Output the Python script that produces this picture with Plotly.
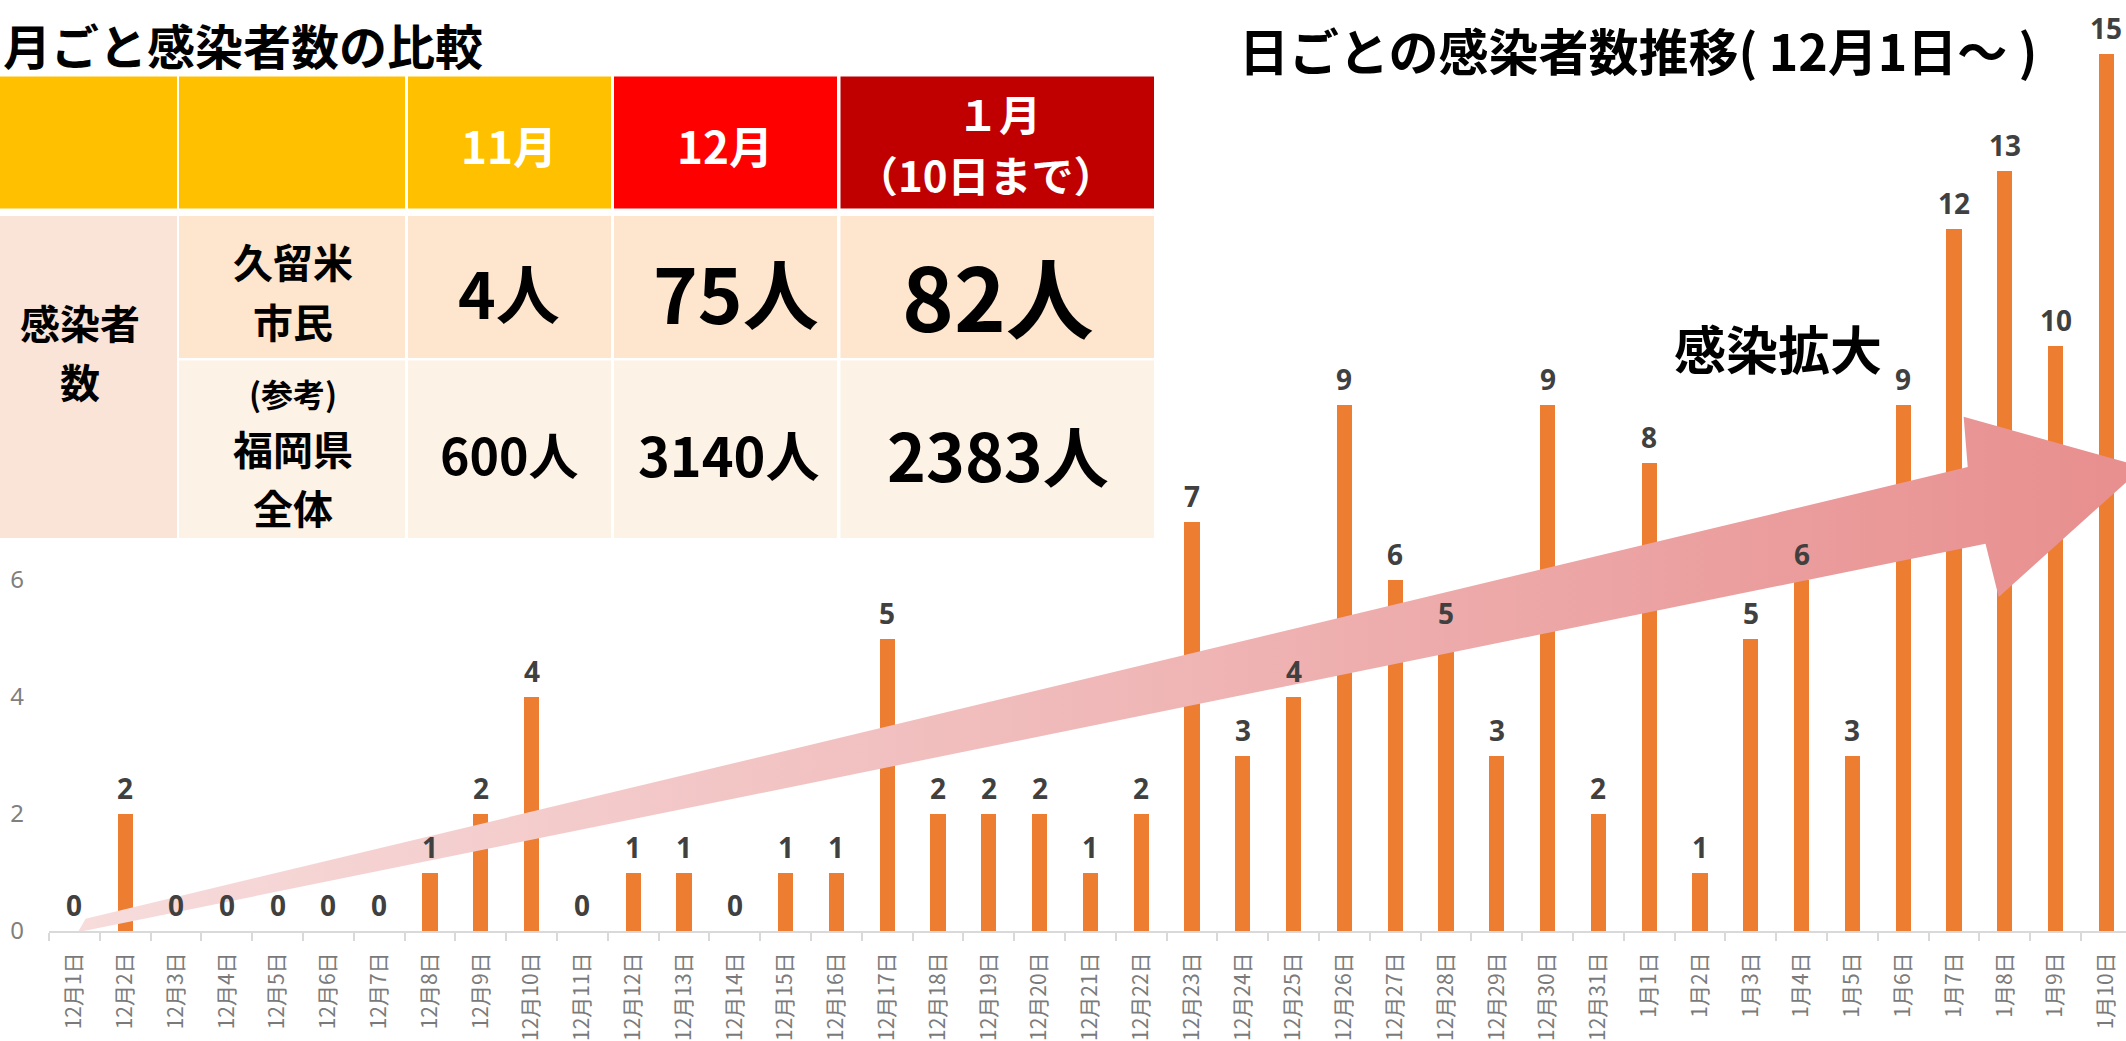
import plotly.graph_objects as go

# ---------------- data ----------------
categories = [f"12月{d}日" for d in range(1, 32)] + [f"1月{d}日" for d in range(1, 11)]
daily_cases = [0, 2, 0, 0, 0, 0, 0, 1, 2, 4, 0, 1, 1, 0, 1, 1, 5, 2, 2, 2, 1, 2, 7, 3, 4,
               9, 6, 5, 3, 9, 2, 8, 1, 5, 6, 3, 9, 12, 13, 10, 15]
y_tick_values = [0, 2, 4, 6]

table_months = ["11月", "12月", "１月", "（10日まで）"]
kurume_cases = ["4人", "75人", "82人"]
fukuoka_cases = ["600人", "3140人", "2383人"]

# decorative arrow outline (in axis units)
arrow_shape_x = [0.07, 0.22, 37.27, 37.19, 40.72, 37.88, 37.62, 0.07]
arrow_shape_y = [-0.02, 0.21, 7.93, 8.79, 7.93, 5.71, 6.62, -0.02]

# ---------------- layout helpers ----------------
W, H = 2126, 1041
ML, MR, MT, MB = 49, 0, 0, 110
PW, PH = W - ML - MR, H - MT - MB
CAT_PX = 50.8
UNIT_PX = 58.5


def px(x):
    return (x - ML) / PW


def py(y):
    return (H - MB - y) / PH


JP = "Noto Sans CJK JP"

fig = go.Figure()

fig.add_trace(go.Scatter(
    x=arrow_shape_x, y=arrow_shape_y, mode="lines", fill="toself",
    line=dict(width=0, color="rgba(0,0,0,0)"),
    fillgradient=dict(type="horizontal",
                      colorscale=[[0, "rgb(247,220,220)"], [0.5, "rgb(240,184,184)"],
                                  [1, "rgb(232,142,142)"]]),
    hoverinfo="skip", showlegend=False))

positions = list(range(len(categories)))
fig.add_trace(go.Bar(x=positions, y=daily_cases, marker_color="#ED7D31",
                     marker_line_width=0, width=0.3, showlegend=False))

annotations = []
for i, v in zip(positions, daily_cases):
    annotations.append(dict(x=i, y=v, xref="x", yref="y", text=f"<b>{v}</b>",
                            showarrow=False, yanchor="bottom", yshift=5,
                            font=dict(family="Noto Sans", size=28, color="#404040")))

shapes = []


def rect(x0, y0, x1, y1, color):
    shapes.append(dict(type="rect", xref="paper", yref="paper", layer="above",
                       x0=px(x0), x1=px(x1), y0=py(y1), y1=py(y0),
                       fillcolor=color, line=dict(width=0)))


def text(cx, cy, t, size, color="black", anchor="center"):
    annotations.append(dict(xref="paper", yref="paper", x=px(cx), y=py(cy), text=t,
                            showarrow=False, xanchor=anchor, yanchor="middle",
                            font=dict(family=JP, size=size, color=color)))


# table background
rect(-10, 74, 1157, 540, "white")
cols = [(-5, 177), (179, 405), (408, 611), (614, 837), (840.5, 1154)]
hdr_colors = ["#FFC000", "#FFC000", "#FFC000", "#FF0000", "#C00000"]
for (x0, x1), c in zip(cols, hdr_colors):
    rect(x0, 76.5, x1, 208.6, c)
rect(cols[0][0], 216, cols[0][1], 538, "#FAE4D8")
for x0, x1 in cols[1:]:
    rect(x0, 216, x1, 358, "#FDE6CD")
    rect(x0, 360.5, x1, 538, "#FDF2E6")

# header texts
text(509, 145, f"<b>{table_months[0]}</b>", 44, "white")
text(725, 145, f"<b>{table_months[1]}</b>", 44, "white")
text(999, 113, f"<b>{table_months[2]}</b>", 42, "white")
text(986, 173, f"<b>{table_months[3]}</b>", 42, "white")

text(80, 322, "<b>感染者</b>", 40)
text(80, 381, "<b>数</b>", 40)
text(293, 261, "<b>久留米</b>", 40)
text(293, 321, "<b>市民</b>", 40)
text(293, 393, "<b>(参考)</b>", 32)
text(293, 448, "<b>福岡県</b>", 40)
text(293, 507, "<b>全体</b>", 40)

text(509, 291, f"<b>{kurume_cases[0]}</b>", 64)
text(736, 291, f"<b>{kurume_cases[1]}</b>", 76)
text(998, 293, f"<b>{kurume_cases[2]}</b>", 88)
text(509, 453, f"<b>{fukuoka_cases[0]}</b>", 50)
text(728, 453, f"<b>{fukuoka_cases[1]}</b>", 54)
text(998, 453, f"<b>{fukuoka_cases[2]}</b>", 66)

# titles
text(1, 44, "<b>月ごと感染者数の比較</b>", 48, anchor="left")
text(1237, 49, "<b>日ごとの感染者数推移( 12月1日～ )</b>", 50, anchor="left")
text(1778, 347, "<b>感染拡大</b>", 52)

fig.update_layout(
    template="none",
    width=W, height=H,
    margin=dict(l=ML, r=MR, t=MT, b=MB, pad=0),
    plot_bgcolor="white", paper_bgcolor="white",
    bargap=0, showlegend=False,
    shapes=shapes, annotations=annotations,
    xaxis=dict(type="linear", range=[-0.5, -0.5 + PW / CAT_PX], automargin=False,
               tickmode="array", tickvals=positions, ticktext=categories,
               tickangle=-90, ticks="", ticklabelstandoff=11,
               tickfont=dict(family=JP, size=21, color="#7A7A7A"),
               showline=True, linecolor="#D9D9D9", linewidth=2,
               showgrid=False, zeroline=False,
               minor=dict(tickvals=[p - 0.5 for p in positions] + [positions[-1] + 0.5],
                          ticks="outside", ticklen=8, tickwidth=2,
                          tickcolor="#D9D9D9", showgrid=False)),
    yaxis=dict(range=[0, PH / UNIT_PX], automargin=False,
               tickmode="array", tickvals=y_tick_values,
               ticks="", ticklabelstandoff=24, showgrid=False, zeroline=False,
               showline=False,
               tickfont=dict(family="Noto Sans", size=24, color="#7F7F7F")),
)

fig.write_html("out.html", config={"displayModeBar": False},
               post_script="document.body.style.margin='0';document.body.style.overflow='hidden';")
